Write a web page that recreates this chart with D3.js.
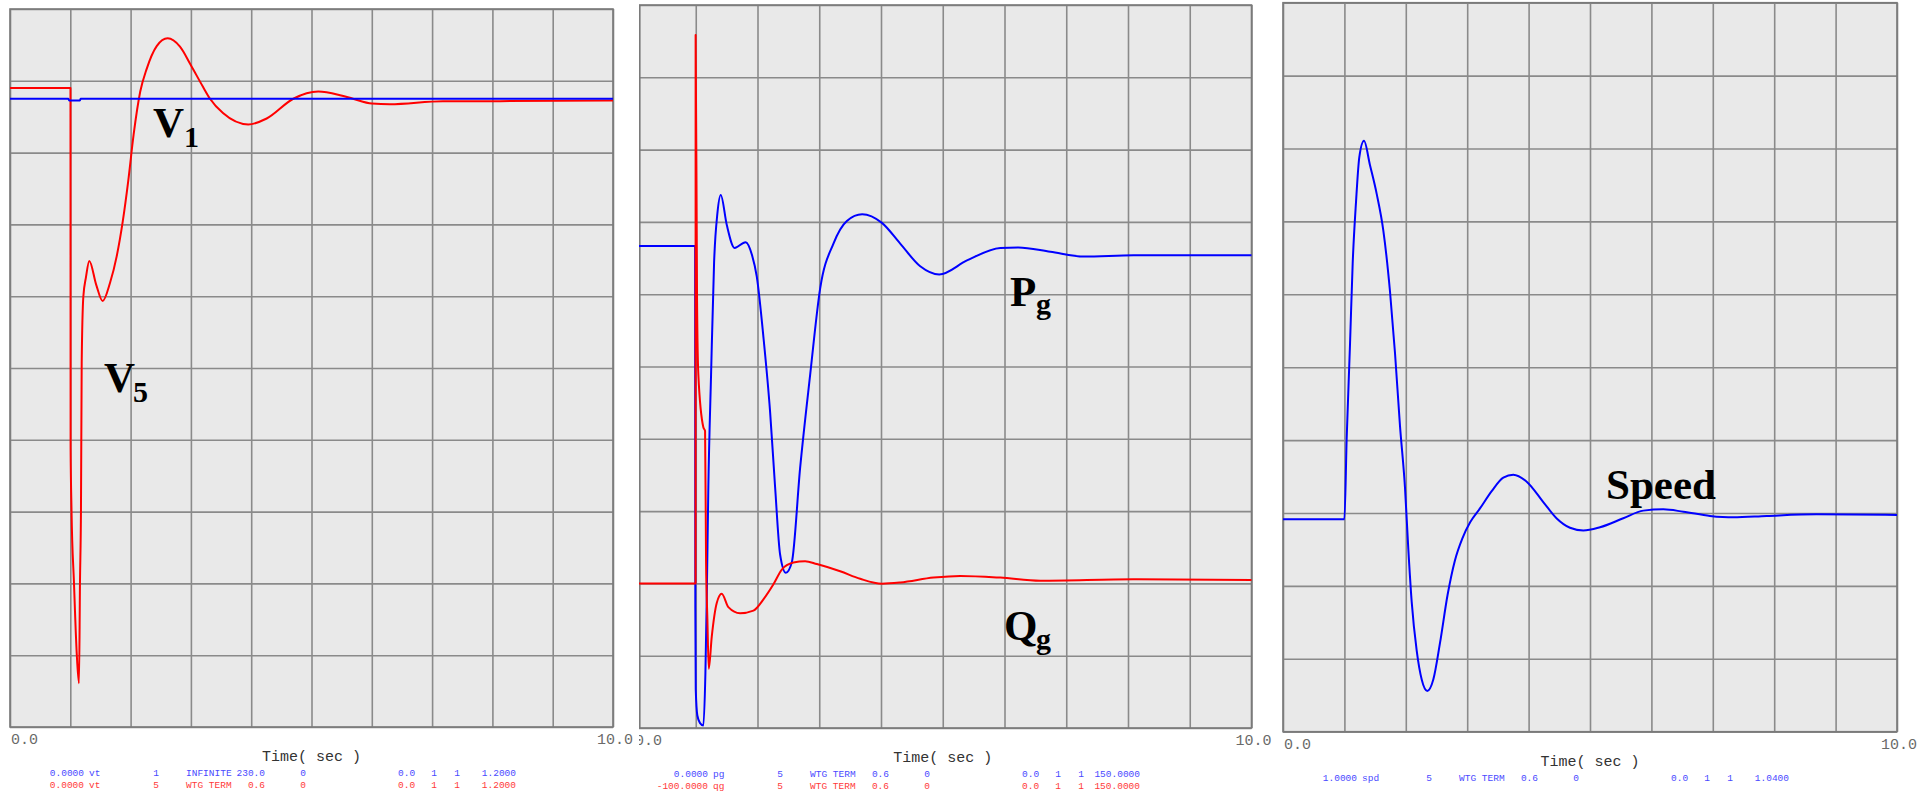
<!DOCTYPE html>
<html>
<head>
<meta charset="utf-8">
<script src="https://cdn.jsdelivr.net/npm/d3@7"></script>
<style>
    body { margin: 0; background: #ffffff; }
    svg { display: block; }
    .grid line { stroke: #8a8a8a; stroke-width: 1.6; }
    .frame { fill: none; stroke: #7a7a7a; stroke-width: 1.6; }
    .trace { fill: none; stroke-width: 2; stroke-linejoin: round; }
    .tick-lbl { font-family: "Liberation Mono", "DejaVu Sans Mono", monospace; font-size: 15px; fill: #6a6a6a; }
    .axis-title { font-family: "Liberation Mono", "DejaVu Sans Mono", monospace; font-size: 15px; fill: #333333; }
    .legend { font-family: "Liberation Mono", "DejaVu Sans Mono", monospace; font-size: 9.5px; }
    .tag { font-family: "Liberation Serif", "Times New Roman", serif; font-weight: bold; fill: #000; }
</style>
</head>
<body>
<svg id="chart" width="1932" height="795"></svg>
<script>
// ---- data ----
var timeDomain = [0, 10];
var timeLabels = ["0.0", "10.0"];
var axisTitle = "Time( sec )";

// panel 1 : terminal voltages (pu)
var vtRange = [0.0, 1.2];
var vtBus1 = [[0, 1.050], [0.97, 1.050], [0.98, 1.047], [1.16, 1.047], [1.17, 1.050], [10, 1.050]];
var vtBus5 = [[0, 1.068], [1.003, 1.068], [1.005, 0.468], [1.02, 0.363], [1.061, 0.241], [1.106, 0.124],
    [1.144, 0.073], [1.161, 0.246], [1.177, 0.363], [1.189, 0.608], [1.216, 0.719], [1.26, 0.752],
    [1.315, 0.779], [1.43, 0.739], [1.537, 0.712], [1.658, 0.742], [1.77, 0.787], [1.87, 0.845],
    [1.96, 0.912], [2.05, 0.99], [2.16, 1.062], [2.267, 1.100], [2.433, 1.138], [2.615, 1.151],
    [2.819, 1.137], [3.0, 1.106], [3.2, 1.070], [3.317, 1.050], [3.532, 1.026], [3.952, 1.007],
    [4.257, 1.017], [4.698, 1.050], [5.113, 1.062], [5.473, 1.056], [5.688, 1.050], [6.0, 1.042],
    [6.30, 1.041], [7.18, 1.046], [8.13, 1.046], [10, 1.047]];

// panel 2 : generator active / reactive power
var pgRange = [0, 150];
var qgRange = [-100, 150];
var pgWtg = [[0, 100], [0.99, 100], [0.993, 25], [1.0, 8], [1.026, 2.6], [1.07, 1.0], [1.123, 0.5],
    [1.156, 11.2], [1.178, 26.7], [1.204, 50], [1.248, 73.3], [1.297, 96.6], [1.35, 106.7],
    [1.405, 110.6], [1.502, 104.4], [1.629, 99.6], [1.807, 100.8], [1.912, 98.1], [1.989, 93.6],
    [2.096, 81.1], [2.204, 65.6], [2.285, 50.0], [2.366, 36.0], [2.459, 32.2], [2.556, 34.4],
    [2.690, 53.9], [2.853, 73.3], [3.015, 91.2], [3.230, 100.5], [3.447, 105.2], [3.695, 106.6],
    [4.015, 104.8], [4.311, 100.5], [4.635, 95.8], [4.943, 94.1], [5.392, 97.0], [5.932, 99.6],
    [6.224, 99.7], [6.742, 98.8], [7.282, 97.8], [8.092, 98.1], [10, 98.1]];
var qgWtg = [[0, -50], [0.997, -50], [0.998, 139.6], [1.021, 48.0], [1.042, 22.2], [1.123, 4.0],
    [1.151, 2.7], [1.167, -42.6], [1.188, -62.0], [1.211, -79.5], [1.259, -68.5], [1.340, -56.8],
    [1.421, -53.6], [1.528, -58.2], [1.718, -60.3], [1.934, -59.4], [2.096, -55.5], [2.258, -50.3],
    [2.394, -45.2], [2.582, -42.8], [2.771, -42.3], [2.961, -43.3], [3.339, -45.8], [3.663, -48.4],
    [4.015, -50.1], [4.311, -49.7], [4.851, -48.0], [5.284, -47.4], [5.932, -48.0], [6.580, -49.1],
    [8.087, -48.6], [10, -48.8]];

// panel 3 : rotor speed (pu)
var spdRange = [1.0, 1.04];
var spdWtg = [[0, 1.01166], [1.0, 1.01166], [1.037, 1.01607], [1.091, 1.02122], [1.135, 1.02570],
    [1.189, 1.02906], [1.243, 1.03153], [1.319, 1.03242], [1.417, 1.03108], [1.526, 1.02951],
    [1.634, 1.02750], [1.743, 1.02414], [1.824, 1.02078], [1.906, 1.01675], [1.987, 1.01338],
    [2.041, 1.01002], [2.096, 1.00712], [2.178, 1.00443], [2.259, 1.00286], [2.350, 1.00223],
    [2.448, 1.00286], [2.557, 1.00487], [2.68, 1.00750], [2.80, 1.00940], [2.92, 1.01060],
    [3.05, 1.01150], [3.208, 1.01225], [3.399, 1.01320], [3.588, 1.01394], [3.751, 1.01410],
    [3.969, 1.01372], [4.239, 1.01260], [4.458, 1.01170], [4.674, 1.01119], [4.891, 1.01104],
    [5.163, 1.01122], [5.542, 1.01171], [5.868, 1.01213], [6.194, 1.01220], [6.520, 1.01207],
    [6.954, 1.01184], [7.334, 1.01176], [7.878, 1.01184], [8.692, 1.01193], [10, 1.01189]];

// channel legend rows (value, name, bus, bus name, kV, id, min, ?, ?, max)
var legendVt1 = ["0.0000", "vt", "1", "INFINITE", "230.0", "0", "0.0", "1", "1", "1.2000"];
var legendVt5 = ["0.0000", "vt", "5", "WTG TERM", "0.6", "0", "0.0", "1", "1", "1.2000"];
var legendPg = ["0.0000", "pg", "5", "WTG TERM", "0.6", "0", "0.0", "1", "1", "150.0000"];
var legendQg = ["-100.0000", "qg", "5", "WTG TERM", "0.6", "0", "0.0", "1", "1", "150.0000"];
var legendSpd = ["1.0000", "spd", "5", "WTG TERM", "0.6", "0", "0.0", "1", "1", "1.0400"];

var RED = "#ff0000", BLUE = "#0000ff";

var svg = d3.select("#chart");
var defs = svg.append("defs");

function drawPanel(cfg) {
    var g = svg.append("g");
    if (cfg.clipLeft) {
        defs.append("clipPath").attr("id", cfg.id + "-clip")
            .append("rect").attr("x", cfg.clipLeft).attr("y", 0)
            .attr("width", 1932 - cfg.clipLeft).attr("height", 795);
        g.attr("clip-path", "url(#" + cfg.id + "-clip)");
    }
    var x = d3.scaleLinear().domain(timeDomain).range([cfg.x0, cfg.x1]);
    var y = d3.scaleLinear().domain(cfg.yDomain).range([cfg.bottom, cfg.top]);
    var h = cfg.bottom - cfg.top;

    g.append("rect")
        .attr("x", cfg.x0).attr("y", cfg.top)
        .attr("width", cfg.x1 - cfg.x0).attr("height", h)
        .attr("fill", "#e9e9e9");

    g.append("g").attr("class", "grid")
        .attr("transform", "translate(0," + cfg.bottom + ")")
        .call(d3.axisBottom(x).tickValues(d3.range(0, 11)).tickSize(-h).tickFormat(""))
        .call(function (a) { a.select(".domain").remove(); });

    var d0 = cfg.yDomain[0], d1 = cfg.yDomain[1];
    var yTicks = d3.range(11).map(function (i) { return d0 + i * (d1 - d0) / 10; });
    g.append("g").attr("class", "grid")
        .attr("transform", "translate(" + cfg.x0 + ",0)")
        .call(d3.axisLeft(y).tickValues(yTicks).tickSize(-(cfg.x1 - cfg.x0)).tickFormat(""))
        .call(function (a) { a.select(".domain").remove(); });

    g.append("rect").attr("class", "frame")
        .attr("x", cfg.x0).attr("y", cfg.top)
        .attr("width", cfg.x1 - cfg.x0).attr("height", h);
    if (cfg.clipLeft) {
        g.append("line").attr("class", "frame")
            .attr("x1", cfg.clipLeft + 0.8).attr("x2", cfg.clipLeft + 0.8)
            .attr("y1", cfg.top).attr("y2", cfg.bottom);
    }

    cfg.series.forEach(function (s) {
        var ys = s.scale ? d3.scaleLinear().domain(s.scale).range([cfg.bottom, cfg.top]) : y;
        var line = d3.line()
            .x(function (d) { return x(d[0]); })
            .y(function (d) { return ys(d[1]); })
            .curve(d3.curveMonotoneX);
        g.append("path").datum(s.data)
            .attr("class", "trace")
            .attr("stroke", s.color)
            .attr("d", line);
    });

    // time labels
    g.append("text").attr("class", "tick-lbl")
        .attr("x", x(0) + 1).attr("y", cfg.bottom + 17)
        .text(timeLabels[0]);
    g.append("text").attr("class", "tick-lbl")
        .attr("x", x(10) + 20).attr("y", cfg.bottom + 17)
        .attr("text-anchor", "end")
        .text(timeLabels[1]);
    g.append("text").attr("class", "axis-title")
        .attr("x", (x(0) + x(10)) / 2).attr("y", cfg.bottom + 34)
        .attr("text-anchor", "middle")
        .text(axisTitle);

    // legend rows
    var cols = [[74, "end"], [79, "start"], [146, "middle"], [176, "start"], [255, "end"],
        [293, "middle"], [388, "start"], [424, "middle"], [447, "middle"], [506, "end"]];
    cfg.legend.forEach(function (row, r) {
        var ly = cfg.bottom + 49 + r * 12;
        row.fields.forEach(function (f, i) {
            g.append("text").attr("class", "legend")
                .attr("x", x(0) + cols[i][0]).attr("y", ly)
                .attr("text-anchor", cols[i][1])
                .attr("fill", row.color)
                .text(f);
        });
    });
    return {x: x, y: y, g: g};
}

function tag(main, sub, px, py, sx, sy) {
    svg.append("text").attr("class", "tag")
        .attr("x", px).attr("y", py).attr("font-size", 43).text(main);
    if (sub) {
        svg.append("text").attr("class", "tag")
            .attr("x", sx).attr("y", sy).attr("font-size", 30).text(sub);
    }
}

// panel 2 is drawn first, its left edge sits under panel 1
drawPanel({
    id: "p2", x0: 634, x1: 1251.5, top: 5, bottom: 728, clipLeft: 639,
    yDomain: pgRange,
    series: [{data: pgWtg, color: BLUE}, {data: qgWtg, color: RED, scale: qgRange}],
    legend: [{color: "#4a4aff", fields: legendPg}, {color: "#ff3a3a", fields: legendQg}]
});
drawPanel({
    id: "p1", x0: 10, x1: 613, top: 9, bottom: 727,
    yDomain: vtRange,
    series: [{data: vtBus5, color: RED}, {data: vtBus1, color: BLUE}],
    legend: [{color: "#4a4aff", fields: legendVt1}, {color: "#ff3a3a", fields: legendVt5}]
});
drawPanel({
    id: "p3", x0: 1283, x1: 1897, top: 2.7, bottom: 731.7,
    yDomain: spdRange,
    series: [{data: spdWtg, color: BLUE}],
    legend: [{color: "#4a4aff", fields: legendSpd}]
});

tag("V", "1", 153, 137, 184, 147);
tag("V", "5", 104, 392, 133, 402);
tag("P", "g", 1010, 306, 1036, 314);
tag("Q", "g", 1004, 640, 1036, 649);
tag("Speed", null, 1606, 499);
</script>
</body>
</html>
